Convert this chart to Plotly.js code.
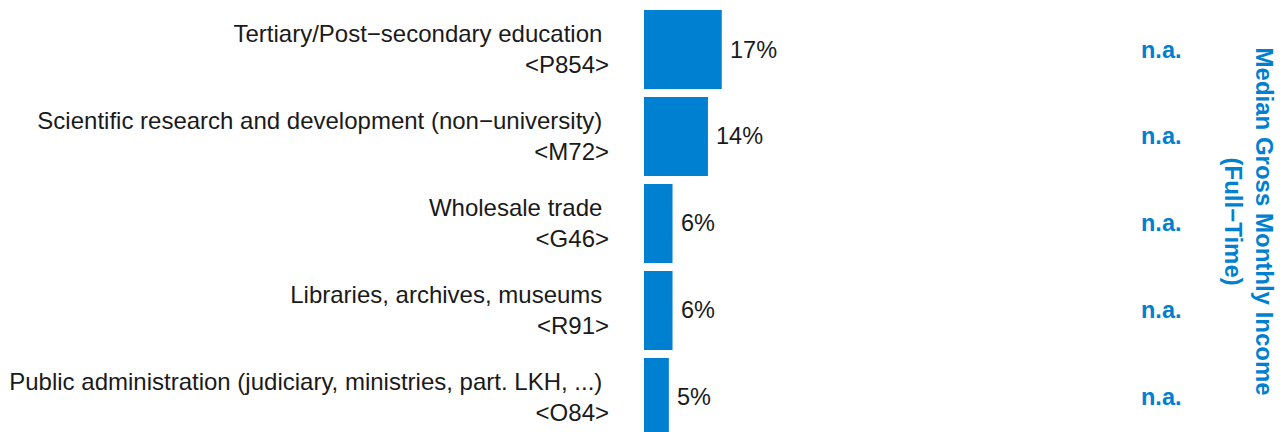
<!DOCTYPE html>
<html>
<head>
<meta charset="utf-8">
<script src="https://cdn.plot.ly/plotly-3.0.1.min.js"></script>
<style>html,body{margin:0;padding:0;background:#fff;}#chart{width:1284px;height:432px;}</style>
</head>
<body>
<div id="chart"></div>
<script>
// Data
const categories = [
  "Tertiary/Post\u2212secondary education\u00a0<br><P854>",
  "Scientific research and development (non\u2212university)\u00a0<br><M72>",
  "Wholesale trade\u00a0<br><G46>",
  "Libraries, archives, museums\u00a0<br><R91>",
  "Public administration (judiciary, ministries, part. LKH, ...)\u00a0<br><O84>"
];
const shares = [16.9, 13.9, 6.2, 6.2, 5.4];
const shareLabels = ["17%", "14%", "6%", "6%", "5%"];
const incomeLabels = ["n.a.", "n.a.", "n.a.", "n.a.", "n.a."];
const incomeTitle = "Median Gross Monthly Income<br>(Full\u2212Time)";

const BLUE = "#0080D0";
const FONT = "Liberation Sans, Arial, Helvetica, sans-serif";

const trace = {
  type: "bar",
  orientation: "h",
  x: shares,
  y: categories,
  marker: {color: BLUE, line: {width: 0}},
  hoverinfo: "skip"
};

const annotations = [];
categories.forEach((c, i) => {
  annotations.push({
    x: shares[i], y: c, xref: "x", yref: "y",
    text: shareLabels[i], showarrow: false,
    xanchor: "left", yanchor: "middle", xshift: 6,
    font: {family: FONT, size: 23.5, color: "#1a1a1a"}
  });
  annotations.push({
    x: 0.808, y: c, xref: "paper", yref: "y",
    text: "<b>" + incomeLabels[i] + "</b>", showarrow: false,
    xanchor: "center", yanchor: "middle",
    font: {family: FONT, size: 23.5, color: BLUE}
  });
});
annotations.push({
  x: 0.946, y: 0.486, xref: "paper", yref: "paper",
  text: "<b>" + incomeTitle + "</b>", showarrow: false,
  textangle: 90, xanchor: "center", yanchor: "middle",
  font: {family: FONT, size: 24, color: BLUE}
});

const layout = {
  width: 1284, height: 432,
  margin: {l: 644, r: 0, t: 0, b: 0, pad: 0},
  paper_bgcolor: "#fff", plot_bgcolor: "#fff",
  showlegend: false,
  bargap: 0.092,
  font: {family: FONT, size: 24, color: "#1a1a1a"},
  xaxis: {range: [0, 139.1], showgrid: false, zeroline: false, showticklabels: false, ticks: "", showline: false},
  yaxis: {
    type: "category", range: [4.397, -0.569], autorange: false,
    showgrid: false, zeroline: false, showline: false, ticks: "",
    ticklabelstandoff: 34,
    tickfont: {family: FONT, size: 24, color: "#1a1a1a"}
  },
  annotations: annotations
};

Plotly.newPlot("chart", [trace], layout, {displayModeBar: false, staticPlot: true});
</script>
</body>
</html>
